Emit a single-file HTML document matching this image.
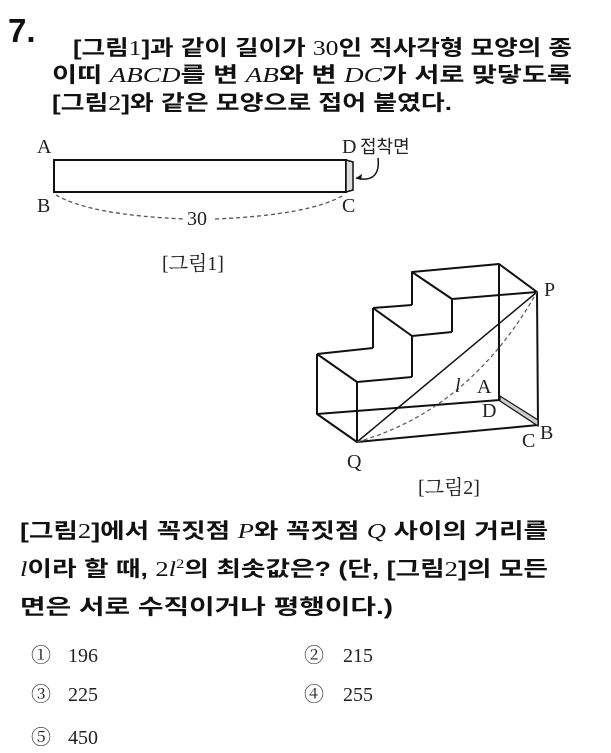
<!DOCTYPE html>
<html><head><meta charset="utf-8"><style>
html,body{margin:0;padding:0;background:#fff;width:611px;height:753px;overflow:hidden}
svg{display:block}
.k{font-family:"Liberation Sans","Noto Sans CJK KR",sans-serif;font-weight:bold;font-size:21px;fill:#111}
.s{font-family:"Liberation Serif","Noto Serif CJK SC",serif;font-size:20px;fill:#222}
.i{font-family:"Liberation Serif",serif;font-style:italic;font-weight:normal}
.n{font-family:"Liberation Serif",serif;font-weight:normal}
</style></head><body>
<svg width="611" height="753" viewBox="0 0 611 753" xmlns="http://www.w3.org/2000/svg">
<text x="8" y="42" style="font-family:'Liberation Sans',sans-serif;font-weight:bold;font-size:33px" fill="#111">7.</text>
<text class="k" x="73" y="55" textLength="499" lengthAdjust="spacingAndGlyphs">[그림<tspan class="n">1</tspan>]과 같이 길이가 <tspan class="n">30</tspan>인 직사각형 모양의 종</text>
<text class="k" x="52" y="82" textLength="520" lengthAdjust="spacingAndGlyphs">이띠 <tspan class="i">ABCD</tspan>를 변 <tspan class="i">AB</tspan>와 변 <tspan class="i">DC</tspan>가 서로 맞닿도록</text>
<text class="k" x="52" y="110" textLength="400" lengthAdjust="spacingAndGlyphs">[그림<tspan class="n">2</tspan>]와 같은 모양으로 접어 붙였다.</text>

<!-- Figure 1 -->
<g stroke="#111" fill="none" stroke-width="2">
<rect x="54" y="160" width="292" height="32" fill="#fff"/>
<path d="M346 160 L353 162 L353 190 L346 192 Z" fill="#ddd" stroke-width="1.5"/>
<path d="M378 158 C380 175 372 182 356 178" stroke-width="1.5"/>
</g>
<path d="M356 178 l6 -4 l-1 6 z" fill="#111"/>
<path d="M56 195 Q90 215 185 219 M215 219 Q310 215 344 195" stroke="#555" stroke-width="1.3" stroke-dasharray="4,3" fill="none"/>
<g class="s">
<text x="37" y="153">A</text><text x="37" y="212">B</text><text x="342" y="212">C</text><text x="342" y="153">D</text>
<text x="187" y="225">30</text>
<text x="162" y="270">[그림1]</text>
</g>
<text x="360" y="153" style="font-family:'Noto Sans CJK KR',sans-serif;font-size:18px" fill="#222">접착면</text>

<!-- Figure 2 -->
<g stroke="#111" stroke-width="2" fill="none" stroke-linejoin="round">
<path d="M412 272 L499 264 L537 292 L452 299 Z"/>
<path d="M412 272 L412 305 M452 299 L452 332"/>
<path d="M373 308 L412 305 M373 308 L412 336 L452 332"/>
<path d="M373 308 L373 348 M412 336 L412 377"/>
<path d="M317 354 L373 348 M317 354 L357 382 L412 377"/>
<path d="M317 354 L317 414 L357 442 L357 382"/>
<path d="M317 414 L500 400 M357 442 L538 425 L537 292 M499 264 L499 400"/>
<path d="M357 442 L537 292" stroke-width="1.5"/>
</g>
<path d="M500 396 L538 420 L538 426 L500 401 Z" fill="#ccc" stroke="#111" stroke-width="1.2"/>
<path d="M357 442 Q470 410 537 292" stroke="#555" stroke-width="1.2" stroke-dasharray="4,3" fill="none"/>
<g class="s">
<text x="544" y="296">P</text>
<text x="455" y="392" class="i">l</text>
<text x="477" y="393">A</text>
<text x="482" y="417">D</text>
<text x="522" y="447">C</text>
<text x="540" y="439">B</text>
<text x="347" y="468">Q</text>
<text x="418" y="494">[그림2]</text>
</g>

<text class="k" x="20" y="538" textLength="528" lengthAdjust="spacingAndGlyphs">[그림<tspan class="n">2</tspan>]에서 꼭짓점 <tspan class="i">P</tspan>와 꼭짓점 <tspan class="i">Q</tspan> 사이의 거리를</text>
<text class="k" x="20" y="576" textLength="528" lengthAdjust="spacingAndGlyphs"><tspan class="i">l</tspan>이라 할 때, <tspan class="n">2</tspan><tspan class="i">l</tspan><tspan class="n" font-size="13" dy="-8">2</tspan><tspan dy="8">의 최솟값은? (단, [그림</tspan><tspan class="n">2</tspan>]의 모든</text>
<text class="k" x="20" y="614" textLength="373" lengthAdjust="spacingAndGlyphs">면은 서로 수직이거나 평행이다.)</text>

<g class="s" font-size="21">
<text x="31" y="662">①</text><text x="68" y="662">196</text>
<text x="304" y="662">②</text><text x="343" y="662">215</text>
<text x="31" y="701">③</text><text x="68" y="701">225</text>
<text x="304" y="701">④</text><text x="343" y="701">255</text>
<text x="31" y="744">⑤</text><text x="68" y="744">450</text>
</g>
</svg>
</body></html>
